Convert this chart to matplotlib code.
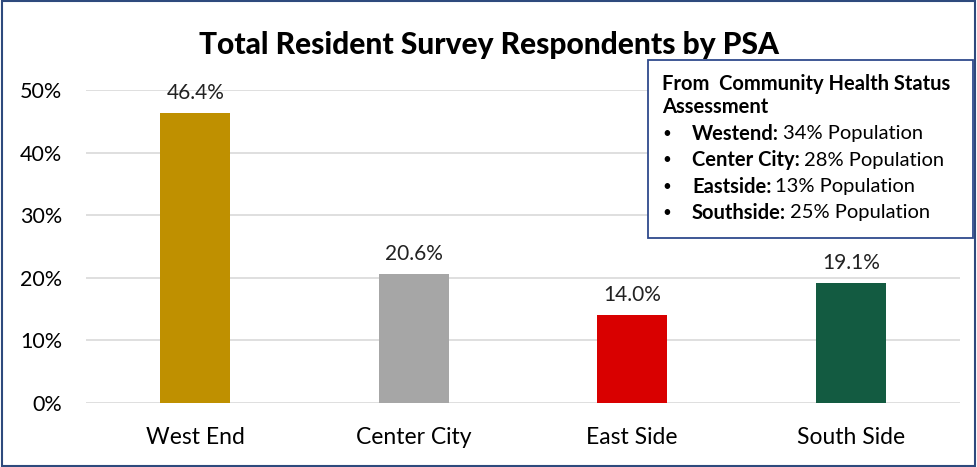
import numpy as np
import matplotlib.pyplot as plt
from matplotlib.patches import Rectangle

regions = ['West End', 'Center City', 'East Side', 'South Side']
shares = [46.4, 20.6, 14.0, 19.1]
bar_colors = ['#BF9000', '#A6A6A6', '#D90000', '#135B41']
yticks = [0, 10, 20, 30, 40, 50]

note_title = 'From  Community Health Status\nAssessment'
note_names = ['Westend:', 'Center City:', 'Eastside:', 'Southside:']
note_pops = ['34% Population', '28% Population', '13% Population', '25% Population']

plt.rcParams['font.family'] = ['Lato', 'DejaVu Sans']

fig = plt.figure(figsize=(9.78, 4.67), dpi=100)
ax = fig.add_axes([86/978, 1 - 403/467, 874/978, 313/467])

x = np.arange(len(regions))
ax.bar(x, shares, width=0.32, color=bar_colors, zorder=2)
for xi, v in zip(x, shares):
    ax.text(xi, v + 1.6, f'{v:.1f}%', ha='center', va='bottom', fontsize=15, color='#222222')

ax.set_xlim(-0.5, 3.5)
ax.set_ylim(0, 50)
ax.set_yticks(yticks)
ax.set_yticklabels([f'{t}%' for t in yticks], fontsize=15.5)
ax.set_xticks(x)
ax.set_xticklabels(regions, fontsize=16.5)
ax.tick_params(length=0)
ax.tick_params(axis='y', pad=17)
ax.tick_params(axis='x', pad=17)
ax.grid(axis='y', color='#D9D9D9', lw=1.2, zorder=0)
for s in ax.spines.values():
    s.set_visible(False)
ax.set_axisbelow(True)

fig.text(0.5, 1 - 45/467, 'Total Resident Survey Respondents by PSA', ha='center', va='center',
         fontsize=21.5, fontweight='black')

# note box on the upper right
fig.patches.append(Rectangle((648/978, 1 - 238/467), 325/978, 178/467, transform=fig.transFigure,
                             facecolor='white', edgecolor='#2F4A8C', lw=1.3, zorder=5))
fig.text(662/978, 1 - 74/467, note_title, ha='left', va='top', fontsize=14.5, fontweight='bold',
         linespacing=1.2, zorder=6)
for i, (nm, pop) in enumerate(zip(note_names, note_pops)):
    yy = 1 - (134 + i * 26.3) / 467
    fig.text(662/978, yy, '•', ha='left', va='center', fontsize=11, zorder=6)
    t = fig.text(692/978, yy, nm, ha='left', va='center', fontsize=14.5, fontweight='bold', zorder=6)
    fig.canvas.draw()
    bb = t.get_window_extent()
    fig.text((bb.x1 + 4) / 978, yy, pop, ha='left', va='center', fontsize=14.5, zorder=6)

# outer frame
fig.patches.append(Rectangle((0.002, 0.003), 0.995, 0.994, transform=fig.transFigure,
                             facecolor='none', edgecolor='#2E4A7D', lw=1.5))

fig.savefig('out.png', dpi=100)
